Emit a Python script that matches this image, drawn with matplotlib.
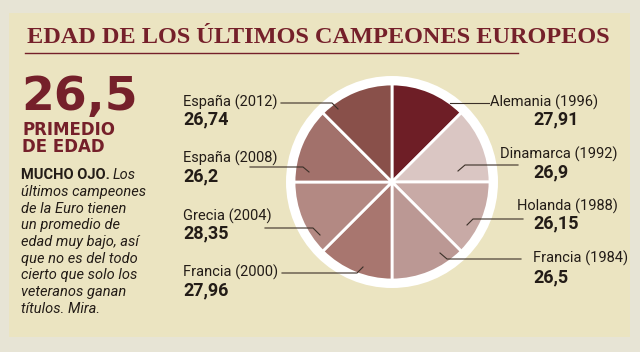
import matplotlib.pyplot as plt
from matplotlib.patches import Rectangle, Circle

# ---- datos ----
title = "EDAD DE LOS ÚLTIMOS CAMPEONES EUROPEOS"
teams = ["Alemania (1996)", "Dinamarca (1992)", "Holanda (1988)", "Francia (1984)",
         "Francia (2000)", "Grecia (2004)", "España (2008)", "España (2012)"]
ages = ["27,91", "26,9", "26,15", "26,5", "27,96", "28,35", "26,2", "26,74"]
slice_share = [1, 1, 1, 1, 1, 1, 1, 1]
avg_age = "26,5"
avg_label = ["PRIMEDIO", "DE EDAD"]
lead = "MUCHO OJO."
body = ["Los", "últimos campeones", "de la Euro tienen", "un promedio de",
        "edad muy bajo, así", "que no es del todo", "cierto que solo los",
        "veteranos ganan", "títulos. Mira."]

# ---- estilo ----
red = "#75202a"
ink = "#231c17"
slice_colors = ["#6e1e26", "#dac6c3", "#c8aaa6", "#bb9894",
                "#a8766f", "#b38983", "#a2716b", "#89504a"]

# label x, label y, value x, value y, leader line points (pixels)
label_pos = [
    (490, 102, 533, 119, [(450, 103), (489, 103)]),
    (500, 154, 533, 172, [(458, 171), (465, 165), (518, 165)]),
    (517, 206, 533, 223, [(467, 225), (473, 219), (523, 219)]),
    (533, 258, 533, 277, [(440, 253), (447, 259), (521, 259)]),
    (183, 272, 183, 290, [(363, 267), (357, 273), (282, 273)]),
    (183, 216, 183, 233, [(320, 235), (313, 228), (265, 228)]),
    (183, 158, 183, 176, [(309, 172), (303, 167), (250, 167)]),
    (183, 102, 183, 119, [(338, 109), (332, 103), (281, 103)]),
]

fig = plt.figure(figsize=(6.4, 3.52), dpi=100)
fig.patch.set_facecolor("#e7e4d5")

# fondo
bg = fig.add_axes([0, 0, 1, 1], zorder=0)
bg.set_xlim(0, 640)
bg.set_ylim(352, 0)
bg.axis("off")
bg.add_patch(Rectangle((9, 13), 621, 324, facecolor="#ebe4c1", edgecolor="none"))

# tarta
cx, cy, r = 392, 182, 106
pie_ax = fig.add_axes([(cx - 110) / 640, (352 - cy - 110) / 352, 220 / 640, 220 / 352], zorder=1)
lim = 110 / r
pie_ax.set_aspect("equal")
pie_ax.axis("off")
pie_ax.add_patch(Circle((0, 0), 1.0, facecolor="white", edgecolor="none"))
pie_ax.pie(slice_share, colors=slice_colors, startangle=90, counterclock=False,
           radius=98 / r, wedgeprops=dict(edgecolor="white", linewidth=2))
pie_ax.set_xlim(-lim, lim)
pie_ax.set_ylim(-lim, lim)

# textos
ov = fig.add_axes([0, 0, 1, 1], zorder=2)
ov.set_xlim(0, 640)
ov.set_ylim(352, 0)
ov.axis("off")
ov.patch.set_alpha(0)

tt = ov.text(27, 43, title, ha="left", va="baseline", color=red, fontsize=17.5,
             family="Liberation Serif", fontweight="bold")
fig.canvas.draw()
w = tt.get_window_extent().width
tt.set_fontsize(17.5 * 581 / w)
ov.plot([25, 518], [53, 53], color=red, lw=1)

for (lx, ly, vx, vy, pts), team, age in zip(label_pos, teams, ages):
    ov.text(lx, ly, team, ha="left", va="center", color=ink, fontsize=10.5, family="Roboto")
    ov.text(vx, vy, age, ha="left", va="center", color=ink, fontsize=13,
            family="Roboto", fontweight="bold")
    xs, ys = zip(*pts)
    ov.plot(xs, ys, color="#3b3028", lw=0.8)

ov.text(21, 110, avg_age, ha="left", va="baseline", color=red, fontsize=34,
        family="DejaVu Sans", fontweight="bold")
ov.text(22, 130, avg_label[0], ha="left", va="center", color=red, fontsize=12,
        family="DejaVu Sans", fontweight="bold")
ov.text(22, 147, avg_label[1], ha="left", va="center", color=red, fontsize=12,
        family="DejaVu Sans", fontweight="bold")

t = ov.text(21, 175, lead, ha="left", va="center", color=ink, fontsize=10.5,
            family="Roboto", fontweight="bold")
fig.canvas.draw()
bb = t.get_window_extent()
ov.text(21 + bb.width + 3, 175, body[0], ha="left", va="center", color=ink,
        fontsize=10.5, family="Roboto", style="italic")
for i, line in enumerate(body[1:]):
    ov.text(21, 192 + i * 16.7, line, ha="left", va="center", color=ink,
            fontsize=10.5, family="Roboto", style="italic")

fig.savefig("out.png", dpi=100, facecolor=fig.get_facecolor())
